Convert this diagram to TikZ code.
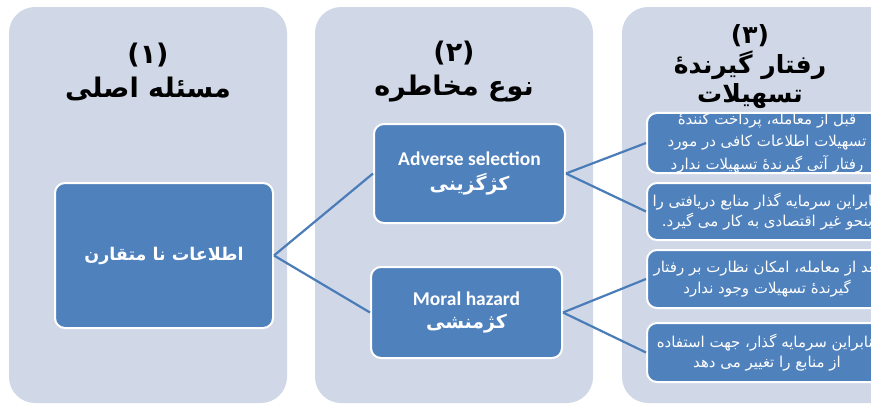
\documentclass[tikz,border=0pt]{standalone}
\usepackage{fontspec}
\usepackage{xcolor}
\usepackage{tikz}
\usetikzlibrary{positioning}
\TeXXeTstate=1
\newfontfamily\fafont[Script=Arabic]{DejaVu Sans}
\newfontfamily\latfont{Carlito}
\definecolor{colbg}{HTML}{D0D8E8}
\definecolor{boxblue}{HTML}{4F81BD}
\definecolor{linkblue}{HTML}{4A7CB8}

\begin{document}
\begin{tikzpicture}[x=1pt, y=-1pt,
    column/.style={rectangle, fill=colbg, rounded corners=26pt, minimum width=278pt, minimum height=396pt, inner sep=0pt},
    title/.style={font=\fafont\bfseries\fontsize{27}{34}\selectfont, align=center, text=black},
    box/.style={rectangle, draw=white, line width=2pt, fill=boxblue, rounded corners=10pt, align=center, text=white, inner sep=0pt},
    note/.style={box, minimum width=240pt, font=\fafont\fontsize{15}{20.5}\selectfont},
    link/.style={draw=linkblue, line width=2.2pt}
]
    \useasboundingbox (0,0) rectangle (871,405);
    \clip (0,0) rectangle (871,405);

    % Columns
    \node[column] (col1) at (148,205) {};
    \node[column] (col2) at (454,205) {};
    \node[column] (col3) at (761,205) {};

    % Titles
    \node[title] (title1) at (148,72) {(۱)\\\beginR مسئله اصلی\endR};
    \node[title] (title2) at (454,72) {(۲)\\\beginR نوع مخاطره\endR};
    \node[title, font=\fafont\bfseries\fontsize{25}{29.5}\selectfont] (title3) at (750,67) {(۳)\\\beginR رفتار گیرندهٔ\endR\\\beginR تسهیلات\endR};

    % Nodes
    \node[box, minimum width=218pt, minimum height=145pt, font=\fafont\bfseries\fontsize{17.5}{20}\selectfont] (asym) at (164,255.5) {\beginR اطلاعات نا متقارن\endR};
    \node[box, minimum width=191pt, minimum height=99pt] (advsel) at (469.5,173.5) {\latfont\bfseries\fontsize{19.5}{22}\selectfont Adverse selection\\[7pt]\fafont\bfseries\fontsize{19}{22}\selectfont\beginR کژگزینی\endR};
    \node[box, minimum width=191pt, minimum height=91pt] (moral) at (466.5,312.5) {\latfont\bfseries\fontsize{19.5}{22}\selectfont Moral hazard\\[7pt]\fafont\bfseries\fontsize{19}{22}\selectfont\beginR کژمنشی\endR};

    \node[note, minimum height=60pt, font=\fafont\fontsize{15}{22.5}\selectfont] (before) at (767,143) {\beginR قبل از معامله، پرداخت کنندهٔ\endR\\\beginR تسهیلات اطلاعات کافی در مورد\endR\\\beginR رفتار آتی گیرندهٔ تسهیلات ندارد\endR};
    \node[note, minimum height=57pt] (misuse) at (767,211.5) {\beginR بنابراین سرمایه گذار منابع دریافتی را\endR\\\beginR بنحو غیر اقتصادی به کار می گیرد.\endR};
    \node[note, minimum height=58pt] (after) at (767,279) {\beginR بعد از معامله، امکان نظارت بر رفتار\endR\\\beginR گیرندهٔ تسهیلات وجود ندارد\endR};
    \node[note, minimum height=59pt] (divert) at (767,352.5) {\beginR بنابراین سرمایه گذار، جهت استفاده\endR\\\beginR از منابع را تغییر می دهد\endR};

    % Links
    \draw[link] (asym.east) -- (advsel.west);
    \draw[link] (asym.east) -- (moral.west);
    \draw[link] (advsel.east) -- (before.west);
    \draw[link] (advsel.east) -- (misuse.west);
    \draw[link] (moral.east) -- (after.west);
    \draw[link] (moral.east) -- (divert.west);
\end{tikzpicture}
\end{document}
